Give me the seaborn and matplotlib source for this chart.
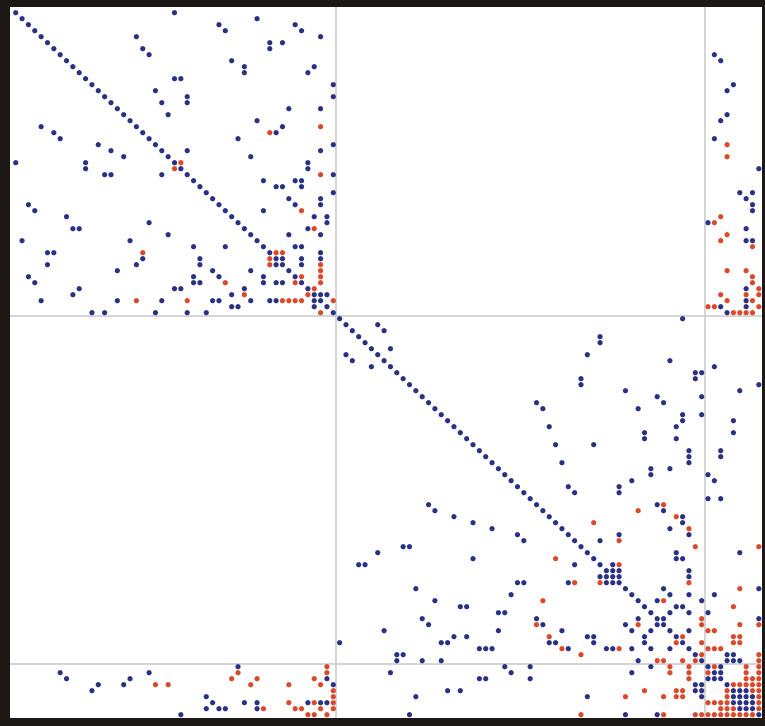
import matplotlib
matplotlib.use("Agg")
import matplotlib.pyplot as plt
import seaborn as sns
import pandas as pd

# Sparsity pattern of a symmetric 118 x 118 matrix.
# Only the lower triangle is listed (row, col); the upper one is its mirror.
N = 118
BLOCK_EDGES = [50.5, 108.5]

# Block 1 (rows 0..50).
block1_blue = [
    (19, 4), (20, 6), (21, 7), (22, 13), (23, 15), (24, 17), (25, 0),
    (25, 11), (26, 11), (27, 14), (27, 15), (27, 23), (32, 2), (33, 3),
    (34, 8), (35, 21), (36, 9), (36, 10), (37, 24), (38, 1), (38, 18),
    (39, 28), (39, 33), (40, 5), (40, 6), (41, 20), (41, 29), (42, 5),
    (42, 19), (42, 29), (42, 41), (43, 16), (43, 31), (43, 37), (44, 2),
    (44, 28), (44, 32), (44, 39), (45, 3), (45, 28), (45, 29), (45, 39),
    (45, 41), (45, 42), (46, 10), (46, 25), (46, 26), (46, 36), (47, 9),
    (47, 34), (48, 4), (48, 16), (48, 23), (48, 31), (48, 32), (48, 37),
    (48, 40), (48, 41), (48, 47), (49, 34), (49, 35), (49, 47), (50, 12),
    (50, 14), (50, 22), (50, 27), (50, 30),
]
block1_red = [
    (26, 25), (40, 20), (41, 40), (42, 40), (45, 33), (45, 44), (47, 36),
    (47, 46), (48, 19), (48, 27), (48, 42), (48, 43), (48, 44), (48, 45),
    (50, 48),
]

# Block 2 (rows 51..108).
block2_blue = [
    (57, 52), (58, 53), (59, 56), (82, 65), (83, 66), (84, 69), (85, 72),
    (86, 75), (87, 79), (88, 80), (89, 61), (89, 62), (90, 57), (91, 72),
    (92, 54), (92, 55), (92, 88), (94, 92), (94, 93), (95, 79), (95, 80),
    (95, 87), (95, 93), (95, 94), (96, 63), (97, 78), (98, 66), (99, 70),
    (99, 71), (100, 76), (100, 77), (101, 64), (101, 82), (101, 98),
    (102, 65), (102, 83), (102, 96), (102, 101), (103, 58), (103, 76),
    (103, 86), (103, 97), (103, 100), (104, 69), (104, 71), (104, 90),
    (104, 91), (104, 99), (105, 51), (105, 67), (105, 68), (105, 84),
    (105, 85), (105, 91), (105, 99), (106, 73), (106, 74), (106, 75),
    (106, 87), (106, 93), (106, 94), (106, 97), (106, 100), (106, 103),
    (107, 60), (107, 61), (108, 60), (108, 64), (108, 67), (108, 98),
]
block2_red = [
    (91, 85), (95, 88), (95, 92), (98, 83), (102, 82), (102, 98),
    (104, 84), (105, 104), (106, 86), (106, 95), (107, 89), (108, 101),
    (108, 102), (108, 105), (108, 107),
]

# Block 3 (rows 109..117).
block3_blue = [
    (109, 35), (110, 7), (110, 21), (110, 59), (110, 78), (110, 97),
    (109, 77), (109, 81), (109, 100), (111, 8), (111, 18), (111, 49),
    (111, 73), (111, 74), (111, 81), (111, 109), (111, 110), (112, 13),
    (112, 17), (112, 50), (112, 107), (112, 108), (113, 12), (113, 68),
    (113, 70), (113, 107), (113, 108), (114, 30), (114, 63), (114, 90),
    (114, 108), (114, 113), (115, 31), (115, 36), (115, 38), (115, 46),
    (115, 48), (115, 49), (115, 113), (115, 114), (116, 30), (116, 32),
    (116, 33), (116, 38), (116, 114), (116, 115), (117, 26), (117, 62),
    (117, 96), (117, 101),
]
block3_red = [
    (109, 49), (109, 103), (109, 106), (110, 35), (110, 49), (110, 103),
    (110, 106), (110, 109), (111, 34), (111, 38), (111, 47), (111, 106),
    (112, 22), (112, 24), (112, 37), (112, 43), (112, 48), (113, 50),
    (113, 99), (113, 104), (113, 105), (113, 112), (114, 50), (114, 96),
    (114, 102), (114, 104), (114, 105), (114, 112), (115, 43), (115, 47),
    (115, 50), (115, 109), (115, 110), (115, 111), (115, 112), (116, 39),
    (116, 44), (116, 45), (116, 48), (116, 50), (116, 111), (116, 112),
    (116, 113), (117, 46), (117, 47), (117, 49), (117, 89), (117, 102),
    (117, 107), (117, 108), (117, 109), (117, 110), (117, 111), (117, 112),
    (117, 113), (117, 114), (117, 115), (117, 116),
]

# Colours of the two kinds of entries.
palette = {"blue": "#2a3184", "red": "#db482a"}

# Build one table of all entries: diagonal, lower triangle and its mirror.
records = [(i, i, "blue") for i in range(N)]
for kind, pairs in (("blue", block1_blue + block2_blue + block3_blue),
                    ("red", block1_red + block2_red + block3_red)):
    for r, c in pairs:
        records.append((r, c, kind))
        records.append((c, r, kind))

entries = pd.DataFrame(records, columns=["row", "col", "kind"])

# Figure with a dark frame round a white plot area.
fig = plt.figure(figsize=(7.65, 7.26), dpi=100, facecolor="#1b1816")
ax = fig.add_axes([10 / 765, 8 / 726, 752 / 765, 711 / 726])
ax.set_facecolor("white")

# Thin grey lines between the blocks.
for edge in BLOCK_EDGES:
    ax.axvline(edge, color="#cdcdcd", lw=1.2, zorder=0)
    ax.axhline(edge, color="#cdcdcd", lw=1.2, zorder=0)

sns.scatterplot(data=entries, x="col", y="row", hue="kind", palette=palette,
                s=14, linewidth=0, legend=False, ax=ax, zorder=2)

ax.set_xlim(-0.9, 117.5)
ax.set_ylim(117.55, -0.95)
ax.set_xticks([])
ax.set_yticks([])
ax.set_xlabel("")
ax.set_ylabel("")
for spine in ax.spines.values():
    spine.set_visible(False)

fig.savefig("out.png", dpi=100, facecolor=fig.get_facecolor())
